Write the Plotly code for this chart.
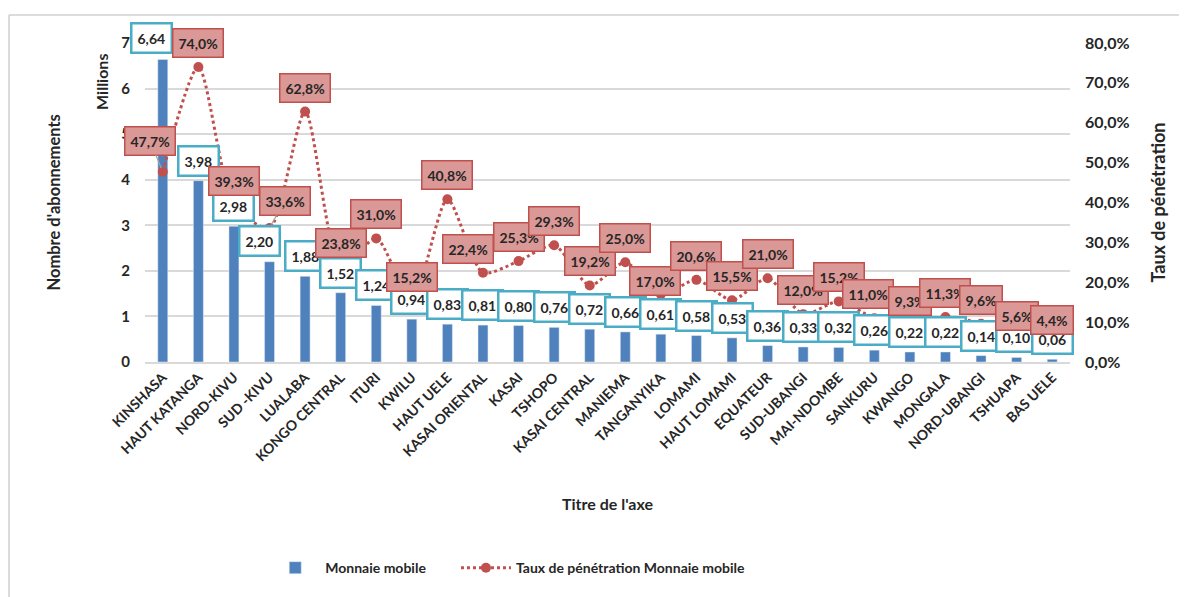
import plotly.graph_objects as go

regions = ["KINSHASA", "HAUT KATANGA", "NORD-KIVU", "SUD -KIVU", "LUALABA", "KONGO CENTRAL",
           "ITURI", "KWILU", "HAUT UELE", "KASAI ORIENTAL", "KASAI", "TSHOPO", "KASAI CENTRAL",
           "MANIEMA", "TANGANYIKA", "LOMAMI", "HAUT LOMAMI", "EQUATEUR", "SUD-UBANGI",
           "MAI-NDOMBE", "SANKURU", "KWANGO", "MONGALA", "NORD-UBANGI", "TSHUAPA", "BAS UELE"]
abonnements = [6.64, 3.98, 2.98, 2.20, 1.88, 1.52, 1.24, 0.94, 0.83, 0.81, 0.80, 0.76, 0.72,
               0.66, 0.61, 0.58, 0.53, 0.36, 0.33, 0.32, 0.26, 0.22, 0.22, 0.14, 0.10, 0.06]
penetration = [0.477, 0.740, 0.393, 0.336, 0.628, 0.238, 0.310, 0.152, 0.408, 0.224, 0.253,
               0.293, 0.192, 0.250, 0.170, 0.206, 0.155, 0.210, 0.120, 0.152, 0.110, 0.093,
               0.113, 0.096, 0.056, 0.044]

# manual label placement (pixel offsets), like the hand-moved labels of the original
bar_shift = {0: (-11, -21), 3: (-10, -21)}
pct_shift = {0: (-13, -31), 3: (15, -27), 9: (-15, -24), 14: (-6, -13), 20: (-6, -24)}
leaders = {0, 3}

FONT = "Lato, 'Open Sans', sans-serif"
BLUE = "#4F81BD"
RED = "#C0504D"
TXT = "#262626"
NB = "\u00a0"


def fr(v, nd):
    return f"{v:.{nd}f}".replace(".", ",")


fig = go.Figure()
fig.add_trace(go.Bar(x=regions, y=abonnements, name="<b>Monnaie mobile</b>" + NB * 7,
                     marker_color=BLUE, width=0.28))
fig.add_trace(go.Scatter(x=regions, y=penetration, yaxis="y2", mode="lines+markers",
                         name="<b>Taux de pénétration Monnaie mobile</b>",
                         line=dict(color=RED, width=3, dash="dot", shape="spline", smoothing=0.7),
                         marker=dict(color=RED, size=10)))

ann = []
for i, (r, v) in enumerate(zip(regions, abonnements)):
    dx, dy = bar_shift.get(i, (0, -20))
    ann.append(dict(x=r, y=v, xref="x", yref="y", text=f"<b>{fr(v, 2)}</b>", showarrow=False,
                    xshift=dx, yshift=-dy, bgcolor="white", bordercolor="#4BACC6",
                    borderwidth=2.5, borderpad=5, font=dict(size=14, color=TXT, family=FONT)))
for i, (r, p) in enumerate(zip(regions, penetration)):
    dx, dy = pct_shift.get(i, (0, -24))
    ann.append(dict(x=r, y=p, xref="x", yref="y2", text=f"<b>{fr(p * 100, 1)}%</b>",
                    showarrow=True, arrowhead=0, arrowwidth=1.2, standoff=4,
                    arrowcolor="#A6A6A6" if i in leaders else "rgba(0,0,0,0)",
                    ax=dx, ay=dy, bgcolor="#DA9896", bordercolor=RED,
                    borderwidth=1.5, borderpad=5, font=dict(size=14, color=TXT, family=FONT)))

ann += [
    dict(text="<b>Nombre d'abonnements</b>", xref="paper", yref="paper", x=0, y=0.5,
         xshift=-92, xanchor="center", yanchor="middle", textangle=-90, showarrow=False,
         font=dict(size=16.5, color=TXT, family=FONT)),
    dict(text="<b>Millions</b>", xref="paper", yref="paper", x=0, y=0.878,
         xshift=-43, xanchor="center", yanchor="middle", textangle=-90, showarrow=False,
         font=dict(size=16, color=TXT, family=FONT)),
    dict(text="<b>Taux de pénétration</b>", xref="paper", yref="paper", x=1, y=0.5,
         xshift=87, xanchor="center", yanchor="middle", textangle=-90, showarrow=False,
         font=dict(size=18, color=TXT, family=FONT)),
]

fig.update_layout(
    width=1187, height=597,
    # page body adds 8px, so margins are trimmed on the left/top
    margin=dict(l=137, r=125, t=35, b=243, autoexpand=False),
    paper_bgcolor="white", plot_bgcolor="white",
    separators=", ",
    font=dict(family=FONT, color=TXT),
    showlegend=True,
    legend=dict(orientation="h", x=0.13, xanchor="left", y=-0.646, yanchor="middle",
                font=dict(size=14, color=TXT, family=FONT), itemwidth=50,
                traceorder="normal"),
    xaxis=dict(range=[-0.5, len(regions) - 0.5], tickangle=-45,
               tickfont=dict(size=14, color=TXT, family=FONT),
               tickprefix="<b>", ticksuffix="</b>", showgrid=False, automargin=False,
               showline=True, linecolor="#D9D9D9", linewidth=1.5,
               title=dict(text="<b>Titre de l'axe</b>", font=dict(size=16, color=TXT, family=FONT),
                          standoff=35)),
    yaxis=dict(range=[0, 7], dtick=1, showgrid=True, gridcolor="#D9D9D9", gridwidth=1.5,
               zeroline=False, tickfont=dict(size=15, color=TXT, family=FONT), automargin=False,
               tickprefix="<b>", ticksuffix="</b>", ticklabelstandoff=14),
    yaxis2=dict(range=[0, 0.8], dtick=0.1, tickformat=".1%", overlaying="y", side="right",
                showgrid=False, zeroline=False, tickfont=dict(size=16, color=TXT, family=FONT),
                tickprefix="<b>", ticksuffix="</b>", ticklabelstandoff=14, automargin=False),
    annotations=ann,
    shapes=[
        dict(type="line", xref="paper", yref="paper", x0=-0.147, x1=1.13, y0=1.0878, y1=1.0878,
             line=dict(color="#D0D0D0", width=1.5)),
        dict(type="line", xref="paper", yref="paper", x0=-0.147, x1=-0.147, y0=1.0878, y1=-0.74,
             line=dict(color="#D0D0D0", width=1.5)),
    ],
)

fig.write_html("out.html")
